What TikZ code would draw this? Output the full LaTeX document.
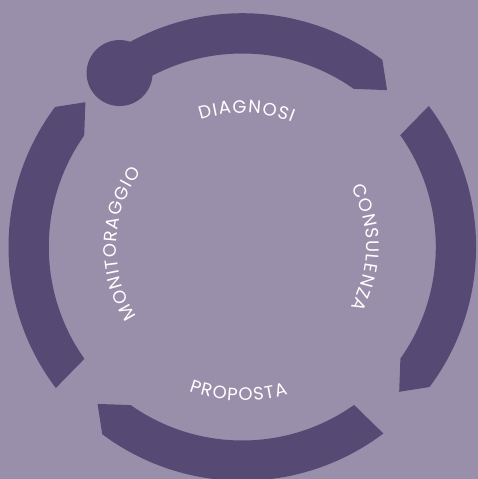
\documentclass[tikz,border=0pt]{standalone}
\usepackage{fontspec}
\usetikzlibrary{decorations.text}
\newfontfamily\lblfont{Poppins}
\newcommand\lblsize{\fontsize{18}{18}\selectfont}
\definecolor{ringcol}{RGB}{86,74,116}
\definecolor{backcol}{RGB}{154,143,170}

\begin{document}
\begin{tikzpicture}[x=1pt,y=1pt,
	ring/.style={fill=ringcol},
	lbl/.style={decorate,decoration={text effects along path,text align=center,
		text effects/.cd,text along path,
		characters={text=white,font=\lblfont\lblsize,inner xsep=0pt},
		character widths={font=\lblfont\lblsize,inner xsep=0.6pt}}}]
	\path[use as bounding box,fill=backcol](-242.3,-232)rectangle(235.7,247);
	\foreach \r in{0,-90,-180,-270}
	\fill[ring,rotate=\r](125.3:193.5)arc[start angle=125.3,end angle=54.8,radius=193.5]
		--(47.3:213.5)--(53.2:233.8)arc[start angle=53.2,end angle=127.1,radius=233.8]--cycle;
	\fill[ring](125.2:212.9)circle[radius=33];
	\path[lbl,decoration={text=DIAGNOSI}]
		(148.2:134)arc[start angle=148.2,end angle=28.2,radius=134];
	\path[lbl,decoration={text=CONSULENZA}]
		(59.8:124)arc[start angle=59.8,end angle=-60.2,radius=124];
	\path[lbl,decoration={text=PROPOSTA}]
		(208.5:153.7)arc[start angle=208.5,end angle=328.5,radius=153.7];
	\path[lbl,decoration={text=MONITORAGGIO}]
		(238.3:126)arc[start angle=238.3,end angle=118.3,radius=126];
\end{tikzpicture}
\end{document}
